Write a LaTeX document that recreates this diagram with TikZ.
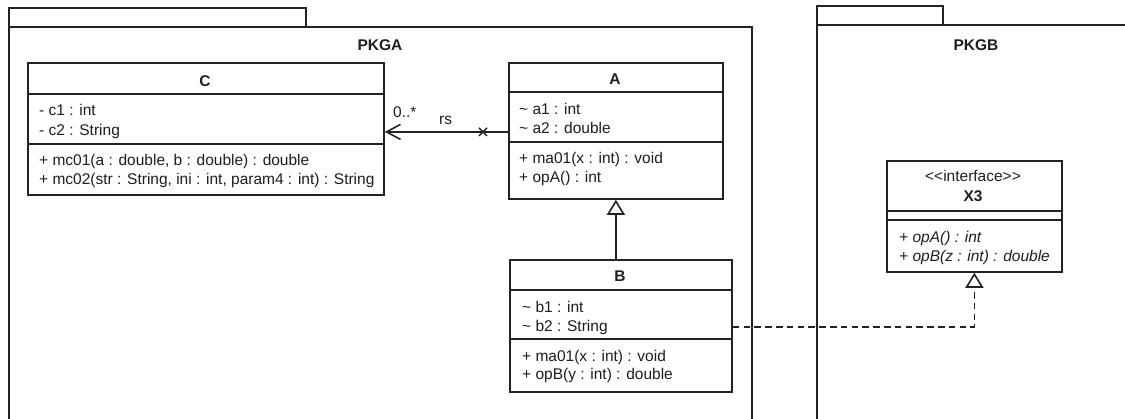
\documentclass[tikz,border=0pt]{standalone}
\usepackage{fontspec}
\setmainfont{Liberation Sans}
\usetikzlibrary{arrows.meta}
\definecolor{lc}{HTML}{222222}
\definecolor{tc}{HTML}{1E1E1E}
\newcommand{\dgfont}{\fontsize{15.5}{20}\selectfont}
\tikzset{
  ln/.style={line width=1.8pt, draw=lc},
  comp/.style={ln, rectangle, inner sep=0pt, anchor=north west, fill=white},
  pkgbox/.style={ln, rectangle, inner sep=0pt, anchor=north west},
  txt/.style={anchor=base west, inner sep=0pt, text=tc, font=\dgfont},
  itxt/.style={txt, font=\dgfont\itshape},
  ctxt/.style={anchor=base, inner sep=0pt, text=tc, font=\dgfont},
  htxt/.style={ctxt, font=\dgfont\bfseries},
  dashline/.style={ln, dash pattern=on 6.5pt off 4.3pt},
  gentip/.style={-{Triangle[open,length=15pt,width=18pt,line width=1.6pt]}},
}
\begin{document}
\begin{tikzpicture}[x=1pt,y=-1pt]
\useasboundingbox (0,0) rectangle (1125,418);
\clip (0,0) rectangle (1125,418);
\fill[white] (0,0) rectangle (1125,418);
% packages
\node[pkgbox, minimum width=297pt, minimum height=19pt] (PAtab) at (8,7) {};
\node[pkgbox, minimum width=743pt, minimum height=430pt] (PA) at (8,26) {};
\node[htxt] (PAname) at (380,50) {PKGA};
\node[pkgbox, minimum width=126pt, minimum height=19pt] (PBtab) at (816,5) {};
\node[pkgbox, minimum width=321pt, minimum height=430pt] (PB) at (816,24) {};
\node[htxt] (PBname) at (976,50) {PKGB};
% class C
\node[comp, minimum width=356pt, minimum height=31pt] (Chead) at (27,62) {};
\node[comp, minimum width=356pt, minimum height=50pt] (Catt) at (27,93) {};
\node[comp, minimum width=356pt, minimum height=51pt] (Cop) at (27,143) {};
\node[htxt] (Cname) at (205,86) {C};
\node[txt] (c1) at (39,115) {- c1 : int};
\node[txt] (c2) at (39,135) {- c2 : String};
\node[txt] (mc1) at (39,165) {+ mc01(a : double, b : double) : double};
\node[txt] (mc2) at (39,184) {+ mc02(str : String, ini : int, param4 : int) : String};
% class A
\node[comp, minimum width=214pt, minimum height=29pt] (Ahead) at (508,62) {};
\node[comp, minimum width=214pt, minimum height=50pt] (Aatt) at (508,91) {};
\node[comp, minimum width=214pt, minimum height=57pt] (Aop) at (508,141) {};
\node[htxt] (Aname) at (615,84) {A};
\node[txt] (a1) at (519,114) {\textasciitilde\ a1 : int};
\node[txt] (a2) at (519,133) {\textasciitilde\ a2 : double};
\node[txt] (ma1) at (519,163) {+ ma01(x : int) : void};
\node[txt] (ma2) at (519,182) {+ opA() : int};
% class B
\node[comp, minimum width=222pt, minimum height=30pt] (Bhead) at (509,259) {};
\node[comp, minimum width=222pt, minimum height=49pt] (Batt) at (509,289) {};
\node[comp, minimum width=222pt, minimum height=53pt] (Bop) at (509,338) {};
\node[htxt] (Bname) at (620,281) {B};
\node[txt] (b1) at (522,312) {\textasciitilde\ b1 : int};
\node[txt] (b2) at (522,331) {\textasciitilde\ b2 : String};
\node[txt] (mb1) at (522,361) {+ ma01(x : int) : void};
\node[txt] (mb2) at (522,379) {+ opB(y : int) : double};
% interface X3
\node[comp, minimum width=175pt, minimum height=50pt] (Xhead) at (886,160) {};
\node[comp, minimum width=175pt, minimum height=9pt] (Xatt) at (886,210) {};
\node[comp, minimum width=175pt, minimum height=52pt] (Xop) at (886,219) {};
\node[ctxt] (Xster) at (973,181) {<\kern0pt<interface>\kern0pt>};
\node[htxt] (Xname) at (973,201) {X3};
\node[itxt] (x1) at (899,242) {+ opA() : int};
\node[itxt] (x2) at (899,261) {+ opB(z : int) : double};
% association A -> C
\draw[ln, -{Straight Barb[length=14pt,width=15pt,line width=1.6pt]}]
  ([yshift=-15pt]Aatt.west) -- ([yshift=-15pt]Aatt.west -| Catt.east);
\coordinate (xm) at ([xshift=-25pt,yshift=-15pt]Aatt.west);
\draw[ln, line width=1.5pt] ([shift={(-4,-4)}]xm) -- ([shift={(4,4)}]xm);
\draw[ln, line width=1.5pt] ([shift={(-4,4)}]xm) -- ([shift={(4,-4)}]xm);
\node[txt] (mult) at (393,117) {0..*};
\node[txt] (rs) at (439,124) {rs};
% generalization B -> A
\draw[ln, gentip] (Bhead.north -| Aop.south) -- (Aop.south);
% realization B -> X3
\draw[dashline, gentip] ([yshift=-12.5pt]Batt.east) -| (Xop.south);
\end{tikzpicture}
\end{document}
